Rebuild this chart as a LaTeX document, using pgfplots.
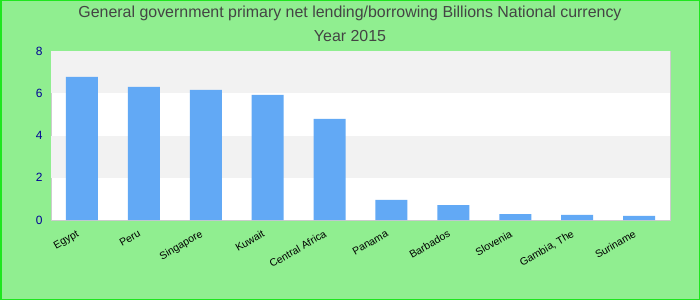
\documentclass[border=0pt]{standalone}
\usepackage{pgfplots}
\pgfplotsset{compat=1.18}
\usepackage{fontspec}
\setmainfont{Liberation Sans}
\definecolor{bggreen}{RGB}{144,238,144}
\definecolor{edgegreen}{RGB}{30,230,30}
\definecolor{barblue}{RGB}{98,169,245}
\definecolor{band}{RGB}{242,242,242}
\definecolor{frame}{RGB}{204,204,204}
\definecolor{ticknavy}{RGB}{0,0,150}
\definecolor{titlegray}{RGB}{68,68,68}
\begin{document}
\begin{tikzpicture}[x=1bp,y=1bp]
\fill[bggreen] (0,0) rectangle (700,300);
\draw[edgegreen,line width=1.5bp] (0.75,0.75) rectangle (699.25,299.25);
\node[text=titlegray,font=\fontsize{16}{19}\selectfont] at (350,286.5) {General government primary net lending/borrowing Billions National currency};
\node[text=titlegray,font=\fontsize{16}{19}\selectfont] at (350,264) {Year 2015};
\begin{axis}[
  at={(51bp,80bp)}, anchor=south west,
  scale only axis, width=619bp, height=169bp,
  xmin=-0.5, xmax=9.5, ymin=0, ymax=8,
  ytick={0,2,4,6,8},
  xtick={0,...,9},
  xticklabels={Egypt,Peru,Singapore,Kuwait,Central Africa,Panama,Barbados,Slovenia,{Gambia, The},Suriname},
  x tick label style={rotate=30, anchor=north east, font=\fontsize{10.5}{12}\selectfont, text=black, inner sep=1bp, xshift=-9bp, yshift=-4bp},
  y tick label style={font=\fontsize{12}{14}\selectfont, text=ticknavy, xshift=-5bp},
  /pgf/number format/assume math mode=true,
  major tick length=0pt,
  axis line style={frame, line width=1bp},
  axis background/.style={fill=white},
  ybar, bar width=32bp,
]
\fill[band] (axis cs:-0.5,2) rectangle (axis cs:9.5,4);
\fill[band] (axis cs:-0.5,6) rectangle (axis cs:9.5,8);
\addplot[fill=barblue, draw=none] coordinates {
(0,6.77) (1,6.30) (2,6.16) (3,5.92) (4,4.79) (5,0.95) (6,0.71) (7,0.28) (8,0.24) (9,0.19)};
\end{axis}
\end{tikzpicture}
\end{document}
